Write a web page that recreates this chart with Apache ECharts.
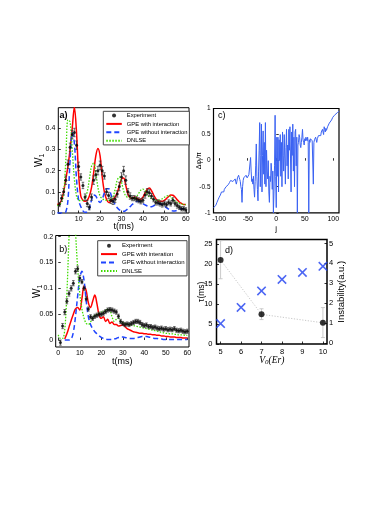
<!DOCTYPE html>
<html>
<head>
<meta charset="utf-8">
<script src="https://cdn.jsdelivr.net/npm/echarts@6/dist/echarts.min.js"></script>
<style>
  html, body { margin: 0; padding: 0; background: #fff; }
  #main { width: 374px; height: 528px; }
</style>
</head>
<body>
<div id="main"></div>
<script>
// ---- panel a) ----
var tA = [0,1,2,3,4,5,6,7,8,9,10,11,12,13,14,15,16,17,18,19,20,21,22,23,24,25,26,27,28,29,
  30,31,32,33,34,35,36,37,38,39,40,41,42,43,44,45,46,47,48,49,50,51,52,53,54,55,56,57,58,59,60];
var gpeIntA = [0.04,0.045,0.06,0.1,0.16,0.22,0.3,0.4,0.5,0.38,
  0.18,0.08,0.06,0.055,0.06,0.08,0.12,0.19,0.27,0.305,
  0.27,0.17,0.1,0.065,0.05,0.055,0.065,0.075,0.095,0.13,
  0.16,0.165,0.13,0.09,0.072,0.07,0.075,0.072,0.065,0.065,
  0.075,0.095,0.112,0.118,0.105,0.085,0.068,0.058,0.055,0.055,
  0.06,0.068,0.078,0.085,0.084,0.075,0.062,0.052,0.045,0.04,0.04];
var gpeNoA = [0,0,0,0,0.005,0.06,0.25,0.38,0.33,0.16,
  0.06,0.03,0.01,0.003,0.003,0.02,0.06,0.085,0.08,0.06,
  0.05,0.065,0.095,0.115,0.115,0.09,0.06,0.04,0.025,0.015,
  0.01,0.008,0.012,0.02,0.03,0.04,0.048,0.054,0.055,0.05,
  0.044,0.038,0.033,0.03,0.03,0.034,0.04,0.044,0.044,0.04,
  0.033,0.025,0.018,0.013,0.01,0.01,0.013,0.018,0.02,0.02,0.02];
var dnlseA = [0.035,0.04,0.05,0.09,0.25,0.44,0.43,0.3,0.16,0.08,
  0.06,0.058,0.06,0.07,0.1,0.16,0.22,0.235,0.19,0.12,
  0.08,0.068,0.062,0.06,0.06,0.063,0.075,0.11,0.155,0.17,
  0.145,0.105,0.08,0.075,0.075,0.07,0.07,0.078,0.092,0.108,
  0.113,0.105,0.088,0.075,0.068,0.063,0.06,0.06,0.062,0.067,
  0.074,0.08,0.082,0.075,0.065,0.055,0.05,0.046,0.042,0.04,0.04];
var tExp = [1,2,3,4,5,6,7,8,9,10,11,12,13,14,15,16,17,18,19,20,21,22,23,24,25,26,27,28,29,30,
  31,32,33,34,35,36,37,38,39,40,41,42,43,44,45,46,47,48,49,50,51,52,53,54,55,56,57,58,59,60];
var expA = [0.04,0.07,0.1,0.155,0.23,0.31,0.37,0.38,0.32,0.22,
  0.17,0.13,0.075,0.045,0.027,0.075,0.155,0.18,0.2,0.225,
  0.2,0.175,0.1,0.083,0.06,0.055,0.065,0.09,0.125,0.17,
  0.2,0.155,0.1,0.08,0.07,0.07,0.065,0.06,0.055,0.06,
  0.085,0.1,0.095,0.08,0.065,0.05,0.05,0.045,0.04,0.045,
  0.04,0.05,0.045,0.06,0.045,0.035,0.027,0.02,0.02,0.015];
var errA = [0.01,0.015,0.015,0.02,0.02,0.02,0.02,0.02,0.02,0.02,
  0.015,0.015,0.015,0.015,0.012,0.015,0.02,0.02,0.02,0.02,
  0.02,0.015,0.015,0.015,0.015,0.015,0.015,0.015,0.02,0.02,
  0.02,0.02,0.015,0.015,0.012,0.012,0.012,0.012,0.012,0.012,
  0.015,0.015,0.015,0.012,0.012,0.012,0.012,0.012,0.012,0.012,
  0.012,0.012,0.012,0.012,0.012,0.012,0.01,0.01,0.01,0.01];

// ---- panel b) ----
var gpeIntB = [null,null,null,0.002,0.012,0.025,0.038,0.05,0.06,0.063,
  0.058,0.08,0.105,0.095,0.072,0.063,0.075,0.087,0.07,0.048,
  0.042,0.045,0.036,0.04,0.032,0.035,0.03,0.03,0.027,0.028,
  0.029,0.026,0.022,0.02,0.018,0.016,0.015,0.014,0.013,0.013,
  0.012,0.012,0.011,0.011,0.01,0.01,0.009,0.009,0.008,0.008,
  0.007,0.007,0.006,0.006,0.006,0.005,0.005,0.005,0.004,0.004,0.004];
var gpeNoB = [null,null,null,0,0,0,0.002,0.015,0.045,0.085,
  0.12,0.133,0.115,0.075,0.045,0.03,0.022,0.016,0.012,0.008,
  0.005,0.003,0.002,0.001,0.001,0.001,0.002,0.003,0.005,0.006,
  0.006,0.005,0.004,0.003,0.003,0.003,0.004,0.005,0.006,0.007,
  0.007,0.007,0.006,0.005,0.004,0.003,0.003,0.002,0.002,0.001,
  0.001,0.001,0.001,0.001,0.001,0.001,0.001,0.001,0.001,0.001,0.001];
var dnlseB = [0.01,0.003,0.003,0.02,0.09,0.2,0.3,0.28,0.21,0.14,
  0.09,0.06,0.042,0.032,0.03,0.035,0.043,0.048,0.05,0.052,
  0.054,0.055,0.057,0.06,0.058,0.045,0.036,0.04,0.042,0.036,
  0.034,0.032,0.031,0.03,0.029,0.028,0.027,0.026,0.025,0.024,
  0.023,0.022,0.021,0.02,0.019,0.018,0.017,0.016,0.015,0.014,
  0.013,0.013,0.012,0.012,0.011,0.011,0.01,0.01,0.01,0.009,0.009];
var expB = [-0.005,0.027,0.054,0.075,0.09,0.1,0.11,0.133,0.138,0.12,
  0.113,0.1,0.08,0.06,0.045,0.042,0.046,0.048,0.05,0.05,
  0.052,0.055,0.058,0.059,0.058,0.056,0.054,0.046,0.036,0.032,
  0.03,0.031,0.03,0.032,0.034,0.036,0.036,0.034,0.03,0.028,
  0.029,0.026,0.026,0.024,0.025,0.023,0.022,0.023,0.021,0.022,
  0.02,0.021,0.02,0.022,0.019,0.018,0.019,0.017,0.016,0.017];
var errB = [0.005,0.005,0.005,0.005,0.005,0.005,0.005,0.005,0.005,0.005,
  0.004,0.004,0.004,0.004,0.004,0.004,0.004,0.004,0.004,0.004,
  0.004,0.004,0.004,0.004,0.004,0.004,0.004,0.004,0.004,0.004,
  0.004,0.004,0.004,0.004,0.004,0.004,0.004,0.004,0.004,0.004,
  0.004,0.004,0.004,0.004,0.004,0.004,0.004,0.004,0.004,0.004,
  0.004,0.004,0.004,0.004,0.004,0.004,0.004,0.004,0.004,0.004];

// ---- panel c) ----
var siteJ = [-110,-109,-108,-107,-106,-105,-104,-103,-102,-101,
  -100,-99,-98,-97,-96,-95,-94,-93,-92,-91,
  -90,-89,-88,-87,-86,-85,-84,-83,-82,-81,
  -80,-79,-78,-77,-76,-75,-74,-73,-72,-71,
  -70,-69,-68,-67,-66,-65,-64,-63,-62,-61,
  -60,-59,-58,-57,-56,-55,-54,-53,-52,-51,
  -50,-49,-48,-47,-46,-45,-44,-43,-42,-41,
  -40,-39,-38,-37,-36,-35,-34,-33,-32,-31,
  -30,-29,-28,-27,-26,-25,-24,-23,-22,-21,
  -20,-19,-18,-17,-16,-15,-14,-13,-12,-11,
  -10,-9,-8,-7,-6,-5,-4,-3,-2,-1,
  0,1,2,3,4,5,6,7,8,9,
  10,11,12,13,14,15,16,17,18,19,
  20,21,22,23,24,25,26,27,28,29,
  30,31,32,33,34,35,36,37,38,39,
  40,41,42,43,44,45,46,47,48,49,
  50,51,52,53,54,55,56,57,58,59,
  60,61,62,63,64,65,66,67,68,69,
  70,71,72,73,74,75,76,77,78,79,
  80,81,82,83,84,85,86,87,88,89,
  90,91,92,93,94,95,96,97,98,99,
  100,101,102,103,104,105,106,107,108,109,110];
var dPhi = [-0.9,-0.89,-0.88,-0.87,-0.86,-0.83,-0.8,-0.78,-0.75,-0.73,
  -0.7,-0.68,-0.66,-0.64,-0.6,-0.63,-0.6,-0.57,-0.6,-0.55,
  -0.57,-0.52,-0.5,-0.53,-0.48,-0.52,-0.46,-0.44,-0.42,-0.4,
  -0.38,-0.36,-0.35,-0.37,-0.4,-0.42,-0.4,-0.37,-0.35,-0.38,
  -0.45,-0.4,-0.33,-0.3,-0.28,-0.32,-0.36,-0.4,-0.5,-0.55,
  -0.8,-0.5,-0.38,-0.33,-0.3,-0.32,-0.3,-0.28,-0.3,-0.33,
  -0.35,-0.3,-0.27,-0.25,-0.3,0.06,-0.2,-0.4,-0.35,-0.45,
  -0.3,-0.55,-0.7,-0.4,-0.1,0.32,-0.3,-0.55,-0.77,-0.2,
  0.2,0.73,-0.5,0.1,0.7,-0.6,0.1,0.57,-0.26,0.35,
  -0.45,0.73,-0.5,0.2,-0.2,-0.35,0.0,-0.6,-0.8,-0.3,
  -0.4,-0.05,-0.2,-0.55,-0.2,-1.0,-0.6,-0.1,0.87,-0.3,
  -0.9,0.45,-0.3,0.45,-0.6,0.4,0.0,0.5,-0.3,0.35,
  -0.5,0.55,0.1,-0.2,0.5,0.05,-0.45,0.25,0.6,-0.1,
  0.3,-0.35,0.6,0.2,0.65,0.05,-0.6,0.55,0.1,0.7,
  -0.2,0.45,-0.5,0.55,0.6,-0.1,0.45,-1.0,0.3,0.35,
  0.5,0.45,0.3,0.25,0.35,0.45,0.6,0.4,0.35,0.3,
  0.42,0.38,0.45,0.42,0.38,0.45,0.35,-1.0,0.4,0.35,
  0.42,0.45,0.4,0.38,0.35,-0.45,0.35,0.4,0.42,0.45,
  0.4,0.35,0.42,0.45,0.48,0.5,0.45,0.5,0.48,0.55,
  0.52,0.6,0.55,0.5,0.65,0.6,0.55,0.62,0.58,0.6,
  0.65,0.62,0.68,0.72,0.75,0.73,0.7,0.78,0.8,0.83,
  0.85,0.84,0.87,0.88,0.86,0.9,0.9,0.92,0.93,0.94,0.95];

// ---- panel d) ----
var v0Tau = [5, 7, 10];
var tauMs = [21, 7.4, 5.3];
var tauLow = [16.3, 6.1, 1.6];
var tauHigh = [25.8, 8.8, 9.1];
var v0Inst = [5, 6, 7, 8, 9, 10];
var instab = [0.97, 1.78, 2.61, 3.19, 3.54, 3.85];

// tick labels
var ticksTA = [10, 20, 30, 40, 50, 60];
var ticksTB = [0, 10, 20, 30, 40, 50, 60];
var ticksWA = [0, 0.1, 0.2, 0.3, 0.4];
var ticksWB = [0, 0.05, 0.1, 0.15, 0.2];
var ticksJ = [-100, -50, 0, 50, 100];
var ticksPhi = [-1, -0.5, 0, 0.5, 1];
var ticksV0 = [5, 6, 7, 8, 9, 10];
var ticksTau = [0, 5, 10, 15, 20, 25];
var ticksInst = [0, 1, 2, 3, 4, 5];

var FONT = '"Liberation Sans", Arial, sans-serif';
var RED = '#ff0000', BLUE = '#1f45ff', GREEN = '#3fdc00';

function toPairs(xs, ys) {
  var out = [];
  for (var i = 0; i < xs.length; i++) {
    if (ys[i] != null) out.push([xs[i], ys[i]]);
  }
  return out;
}
function toBars(xs, lo, hi) {
  return xs.map(function (x, i) { return [x, lo[i], hi[i]]; });
}
function plusMinus(ys, es, sign) {
  return ys.map(function (y, i) { return y + sign * es[i]; });
}

// vertical error bar with little caps
function errorBar(color, lw, cap) {
  return function (params, api) {
    var p1 = api.coord([api.value(0), api.value(1)]);
    var p2 = api.coord([api.value(0), api.value(2)]);
    var st = { stroke: color, lineWidth: lw };
    return {
      type: 'group',
      children: [
        { type: 'line', shape: { x1: p1[0], y1: p1[1], x2: p2[0], y2: p2[1] }, style: st },
        { type: 'line', shape: { x1: p1[0] - cap, y1: p1[1], x2: p1[0] + cap, y2: p1[1] }, style: st },
        { type: 'line', shape: { x1: p2[0] - cap, y1: p2[1], x2: p2[0] + cap, y2: p2[1] }, style: st }
      ]
    };
  };
}

function axis(o) {
  var a = {
    type: 'value', gridIndex: o.grid, min: o.min, max: o.max,
    splitLine: { show: false },
    axisLine: { show: false },
    axisTick: { inside: true, length: 2.5, customValues: o.ticks, lineStyle: { color: '#000', width: 0.8 } },
    axisLabel: { customValues: o.ticks, fontSize: o.fs || 7, color: '#000', margin: o.margin, fontFamily: FONT },
    name: o.name, nameLocation: 'middle', nameGap: o.gap, nameMoveOverlap: false,
    nameTextStyle: o.nameStyle
  };
  if (o.position) a.position = o.position;
  if (o.rotate != null) a.nameRotate = o.rotate;
  return a;
}

function curve(name, xi, data, color, dash, width) {
  return {
    name: name, type: 'line', xAxisIndex: xi, yAxisIndex: xi, data: data,
    symbol: 'none', smooth: 0.35, clip: true, silent: true,
    lineStyle: { color: color, width: width, type: dash }, itemStyle: { color: color }, z: 3
  };
}

// legend rows: only the Experiment row keeps its dot
function legendRows(names) {
  return names.map(function (n, i) {
    return i === 0 ? { name: n } : { name: n, itemStyle: { opacity: 0 } };
  });
}

var wName = { fontSize: 10, color: '#000', fontFamily: FONT, rich: { s: { fontSize: 7, fontFamily: FONT, padding: [5, 0, 0, 0] } } };
var tName = { fontSize: 9, color: '#000', fontFamily: FONT };
var legendText = { color: '#000', fontFamily: FONT, lineHeight: 7.4 };

var chart = echarts.init(document.getElementById('main'));
chart.setOption({
  animation: false,
  backgroundColor: '#fff',
  textStyle: { fontFamily: FONT },
  grid: [
    { left: 58.3, top: 107.7, width: 130.7, height: 105.3, show: true, borderColor: '#000', borderWidth: 1, backgroundColor: 'transparent' },
    { left: 55.7, top: 235.5, width: 133.3, height: 111.5, show: true, borderColor: '#000', borderWidth: 1, backgroundColor: 'transparent' },
    { left: 213.5, top: 108.5, width: 125.5, height: 104.3, show: true, borderColor: '#000', borderWidth: 1.2, backgroundColor: 'transparent' },
    { left: 216.5, top: 239.5, width: 110.5, height: 104.5, show: true, borderColor: '#000', borderWidth: 1.5, backgroundColor: 'transparent' }
  ],
  xAxis: [
    axis({ grid: 0, min: 0.5, max: 61.5, ticks: ticksTA, margin: 3, name: 't(ms)', gap: 9.5, nameStyle: tName }),
    axis({ grid: 1, min: -1.2, max: 60.8, ticks: ticksTB, margin: 3, name: 't(ms)', gap: 10.5, nameStyle: tName }),
    axis({ grid: 2, min: -110, max: 110, ticks: ticksJ, margin: 3, name: 'j', gap: 12, nameStyle: { fontSize: 8, color: '#000', fontFamily: FONT } }),
    axis({ grid: 3, min: 4.8, max: 10.2, ticks: ticksV0, margin: 4, fs: 7.5, name: 'V{s|0}(Er)', gap: 11,
      nameStyle: { fontSize: 9.5, color: '#000', fontStyle: 'italic', fontFamily: '"Liberation Serif", serif',
        rich: { s: { fontSize: 7, fontFamily: '"Liberation Serif", serif', padding: [4, 0, 0, 0] } } } })
  ],
  yAxis: [
    axis({ grid: 0, min: 0, max: 0.497, ticks: ticksWA, margin: 3, name: 'W{s|1}', gap: 13, nameStyle: wName }),
    axis({ grid: 1, min: -0.0135, max: 0.2023, ticks: ticksWB, margin: 2.5, name: 'W{s|1}', gap: 12, nameStyle: wName }),
    axis({ grid: 2, min: -1, max: 1, ticks: ticksPhi, margin: 3, fs: 6.5, name: 'Δφ{s|j}/π', gap: 10.5,
      nameStyle: { fontSize: 7, color: '#000', fontFamily: FONT, rich: { s: { fontSize: 5, fontFamily: FONT, padding: [3, 0, 0, 0] } } } }),
    axis({ grid: 3, min: 0, max: 26.1, ticks: ticksTau, margin: 4, fs: 7.5, name: 'τ(ms)', gap: 10.5, nameStyle: { fontSize: 8.5, color: '#000', fontFamily: FONT } }),
    axis({ grid: 3, min: -0.06, max: 5.2, ticks: ticksInst, margin: 2, fs: 7.5, position: 'right', rotate: 90,
      name: 'Instability(a.u.)', gap: 9, nameStyle: { fontSize: 9.5, color: '#000', fontFamily: FONT } })
  ],
  legend: [
    {
      data: legendRows(['Experiment', 'GPE with interaction', 'GPE without interaction', 'DNLSE']),
      orient: 'vertical', left: 103.3, top: 111.3, itemWidth: 15.5, itemHeight: 4, itemGap: 1,
      padding: [0.5, 2], borderColor: '#444', borderWidth: 1, backgroundColor: '#fff',
      selectedMode: false, textStyle: Object.assign({ fontSize: 5.8 }, legendText)
    },
    {
      data: legendRows(['Experiment', 'GPE with interation', 'GPE without interaction', 'DNLSE']),
      orient: 'vertical', left: 97.7, top: 240.7, itemWidth: 16, itemHeight: 4, itemGap: 1,
      padding: [1.3, 2.3], borderColor: '#444', borderWidth: 1, backgroundColor: '#fff',
      selectedMode: false, textStyle: Object.assign({ fontSize: 6 }, legendText)
    }
  ],
  graphic: [
    { type: 'text', left: 59.5, top: 111.5, style: { text: 'a)', font: 'bold 9px ' + FONT, fill: '#000' } },
    { type: 'text', left: 59.3, top: 245.5, style: { text: 'b)', font: '9px ' + FONT, fill: '#000' } },
    { type: 'text', left: 218, top: 111.5, style: { text: 'c)', font: '9px ' + FONT, fill: '#000' } },
    { type: 'text', left: 225, top: 246, style: { text: 'd)', font: '9px ' + FONT, fill: '#000' } }
  ],
  series: [
    // a)
    { type: 'custom', xAxisIndex: 0, yAxisIndex: 0, silent: true, z: 4,
      renderItem: errorBar('#333', 0.7, 1.3), encode: { x: 0, y: [1, 2] },
      data: toBars(tExp, plusMinus(expA, errA, -1), plusMinus(expA, errA, 1)) },
    curve('GPE with interaction', 0, toPairs(tA, gpeIntA), RED, 'solid', 1.5),
    curve('GPE without interaction', 0, toPairs(tA, gpeNoA), BLUE, [5, 3], 1.5),
    curve('DNLSE', 0, toPairs(tA, dnlseA), GREEN, [1.5, 1.5], 1.3),
    { name: 'Experiment', type: 'scatter', xAxisIndex: 0, yAxisIndex: 0, symbol: 'circle', symbolSize: 3,
      itemStyle: { color: '#000' }, silent: true, z: 5, data: toPairs(tExp, expA) },
    // b)
    { type: 'custom', xAxisIndex: 1, yAxisIndex: 1, silent: true, z: 4,
      renderItem: errorBar('#333', 0.7, 1.3), encode: { x: 0, y: [1, 2] },
      data: toBars(tExp, plusMinus(expB, errB, -1), plusMinus(expB, errB, 1)) },
    curve('GPE with interation', 1, toPairs(tA, gpeIntB), RED, 'solid', 1.5),
    curve('GPE without interaction', 1, toPairs(tA, gpeNoB), BLUE, [5, 3], 1.5),
    curve('DNLSE', 1, toPairs(tA, dnlseB), GREEN, [1.5, 1.5], 1.3),
    { name: 'Experiment', type: 'scatter', xAxisIndex: 1, yAxisIndex: 1, symbol: 'circle', symbolSize: 3,
      itemStyle: { color: '#000' }, silent: true, z: 5, data: toPairs(tExp, expB) },
    // c)
    { type: 'line', xAxisIndex: 2, yAxisIndex: 2, data: toPairs(siteJ, dPhi), symbol: 'none', silent: true,
      lineStyle: { color: '#3a62f2', width: 1 } },
    // d)
    { type: 'line', xAxisIndex: 3, yAxisIndex: 3, data: toPairs(v0Tau, tauMs), symbol: 'none', silent: true,
      lineStyle: { color: '#c8c8c8', width: 1, type: [1.2, 1.6] }, z: 2 },
    { type: 'custom', xAxisIndex: 3, yAxisIndex: 3, silent: true, z: 3,
      renderItem: errorBar('#c4c4c4', 0.9, 2), encode: { x: 0, y: [1, 2] },
      data: toBars(v0Tau, tauLow, tauHigh) },
    { type: 'scatter', xAxisIndex: 3, yAxisIndex: 3, symbol: 'circle', symbolSize: 6, silent: true, z: 5,
      itemStyle: { color: '#000' }, data: toPairs(v0Tau, tauMs) },
    { type: 'scatter', xAxisIndex: 3, yAxisIndex: 4, silent: true, z: 5, symbolSize: 9.5,
      symbol: 'path://M0,1.2L1.2,0L5,3.8L8.8,0L10,1.2L6.2,5L10,8.8L8.8,10L5,6.2L1.2,10L0,8.8L3.8,5Z',
      itemStyle: { color: '#1f40f0' }, data: toPairs(v0Inst, instab) }
  ]
});
</script>
</body>
</html>
